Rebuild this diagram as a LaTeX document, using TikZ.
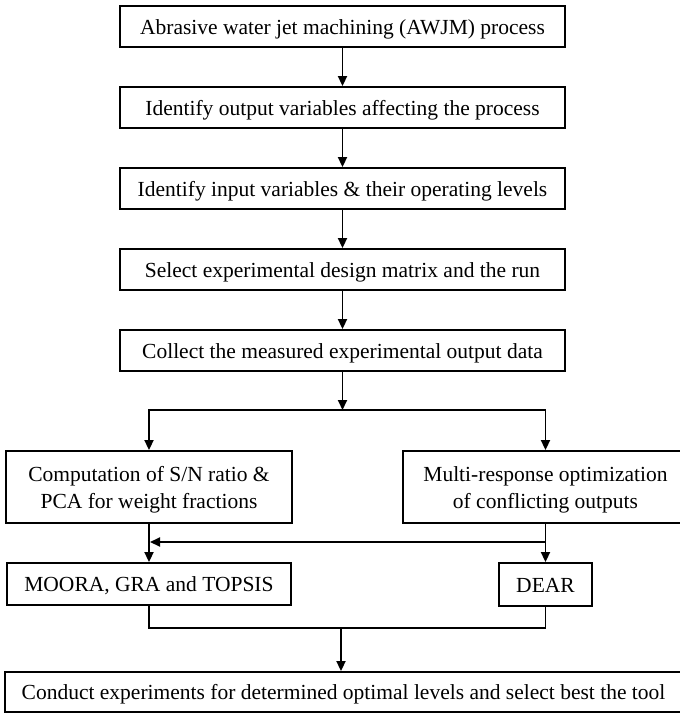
\documentclass[tikz,border=0pt]{standalone}
\usepackage{fontspec}
\setmainfont{Liberation Serif}
\usetikzlibrary{arrows.meta}
\begin{document}
\begin{tikzpicture}[x=1pt,y=-1pt,line width=1.9pt,
  box/.style={draw,line width=1.9pt,minimum height=41pt,inner sep=0pt,
    font=\fontsize{21.5}{27}\selectfont,align=center,text height=17pt,text depth=2pt},
  twoline/.style={text height=46pt,text depth=2.5pt},
  arr/.style={-{Triangle[length=10pt,width=9pt]}}]
\useasboundingbox (0,0) rectangle (680,713);
\clip (0,0) rectangle (680,713);
\node[box,minimum width=445pt] (b1) at (342.5,26.5) {Abrasive water jet machining (AWJM) process};
\node[box,minimum width=445pt] (b2) at (342.5,107.5) {Identify output variables affecting the process};
\node[box,minimum width=445pt] (b3) at (342.5,188.5) {Identify input variables \& their operating levels};
\node[box,minimum width=445pt] (b4) at (342.5,269.5) {Select experimental design matrix and the run};
\node[box,minimum width=445pt] (b5) at (342.5,350.5) {Collect the measured experimental output data};
\node[box,twoline,minimum width=286pt,minimum height=72pt] (l) at (149,487) {Computation of S/N ratio \&\\PCA for weight fractions};
\node[box,twoline,minimum width=285pt,minimum height=72pt] (r) at (545.5,487) {Multi-response optimization\\of conflicting outputs};
\node[box,minimum width=284pt,minimum height=42pt] (m) at (149,584) {MOORA, GRA and TOPSIS};
\node[box,minimum width=93pt,minimum height=43pt] (d) at (545.5,584.5) {DEAR};
\node[box,minimum width=677pt,minimum height=40pt] (c) at (343.5,692) {Conduct experiments for determined optimal levels and select best the tool};
\draw[arr] (b1.south) -- (b2.north);
\draw[arr] (b2.south) -- (b3.north);
\draw[arr] (b3.south) -- (b4.north);
\draw[arr] (b4.south) -- (b5.north);
\coordinate (s) at (342.5,410);
\draw[arr] (b5.south) -- (s);
\draw[arr] (s) -| (l.north);
\draw[arr] (s) -| (r.north);
\draw[arr] (l.south) -- (m.north);
\draw[arr] (r.south) -- (d.north);
\coordinate (jr) at (545.5,542);
\coordinate (jl) at (150,542);
\draw[arr] (jr) -- (jl);
\coordinate (mid) at (341,628);
\draw (m.south) -- (m.south |- mid) -| (d.south);
\draw[arr] (mid) -- (mid |- c.north);
\end{tikzpicture}
\end{document}
